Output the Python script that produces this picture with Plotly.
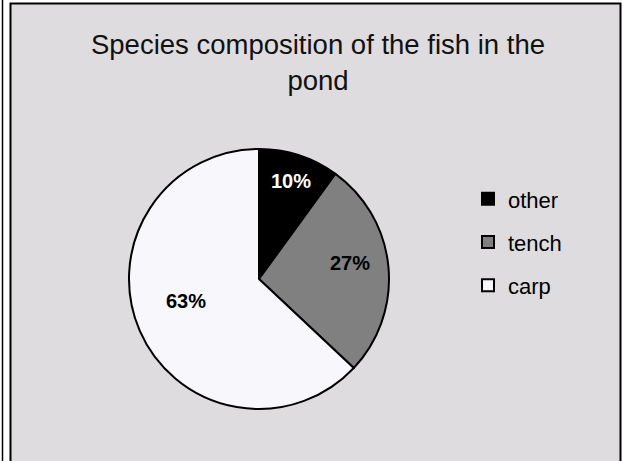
import math
import plotly.graph_objects as go

labels = ["other", "tench", "carp"]
values = [10, 27, 63]
slice_colors = ["#000000", "#808080", "#f8f7fc"]
text_colors = ["#ffffff", "#000000", "#000000"]
title_text = "Species composition of the fish in the<br>pond"

W, H = 623, 461
cx, cy, r = 259, 279, 130
# label placement (style): radial fraction and angular tweak per slice
label_rad = [0.79, 0.71, 0.59]
label_dang = [0.0, -4.5, 6.5]

fig = go.Figure()
fig.add_trace(go.Pie(
    labels=[f"<span style='font-size:22px; baseline-shift:3px'>{l}</span>" for l in labels],
    values=values,
    sort=False,
    direction="clockwise",
    rotation=0,
    marker=dict(colors=slice_colors, line=dict(color="#000000", width=2)),
    textinfo="none",
    domain=dict(x=[(cx - r) / W, (cx + r) / W], y=[(H - cy - r) / H, (H - cy + r) / H]),
    hoverinfo="skip",
))

total = sum(values)
annotations = []
cum = 0
for i, v in enumerate(values):
    mid = (cum + v / 2) / total * 360 + label_dang[i]
    cum += v
    rr = r * label_rad[i]
    px = cx + rr * math.sin(math.radians(mid))
    py = cy - rr * math.cos(math.radians(mid))
    annotations.append(dict(
        x=px / W, y=1 - py / H, xref="paper", yref="paper", showarrow=False,
        xanchor="center", yanchor="middle",
        text=f"<b>{round(v / total * 100)}%</b>",
        font=dict(family="Liberation Sans", size=20, color=text_colors[i]),
    ))

fig.update_layout(
    width=W, height=H,
    margin=dict(l=0, r=0, t=0, b=0),
    paper_bgcolor="#ffffff",
    font=dict(family="Liberation Sans", color="#000000"),
    title=dict(text=title_text, x=318 / W, xanchor="center", y=1 - 54 / H, yanchor="top",
               font=dict(size=27.5, color="#111111")),
    legend=dict(x=468 / W, xanchor="left", y=1 - 172 / H, yanchor="top",
                font=dict(size=31, color="#000000"), bgcolor="rgba(0,0,0,0)"),
    annotations=annotations,
    shapes=[
        dict(type="line", xref="paper", yref="paper", x0=2.5 / W, x1=2.5 / W, y0=0, y1=1,
             line=dict(color="#000000", width=1.5)),
        dict(type="rect", xref="paper", yref="paper", x0=10.5 / W, x1=620.5 / W, y0=-0.05, y1=1 - 3.5 / H,
             line=dict(color="#000000", width=2), fillcolor="#dedcdf", layer="below"),
    ],
)

fig.write_html("out.html")
